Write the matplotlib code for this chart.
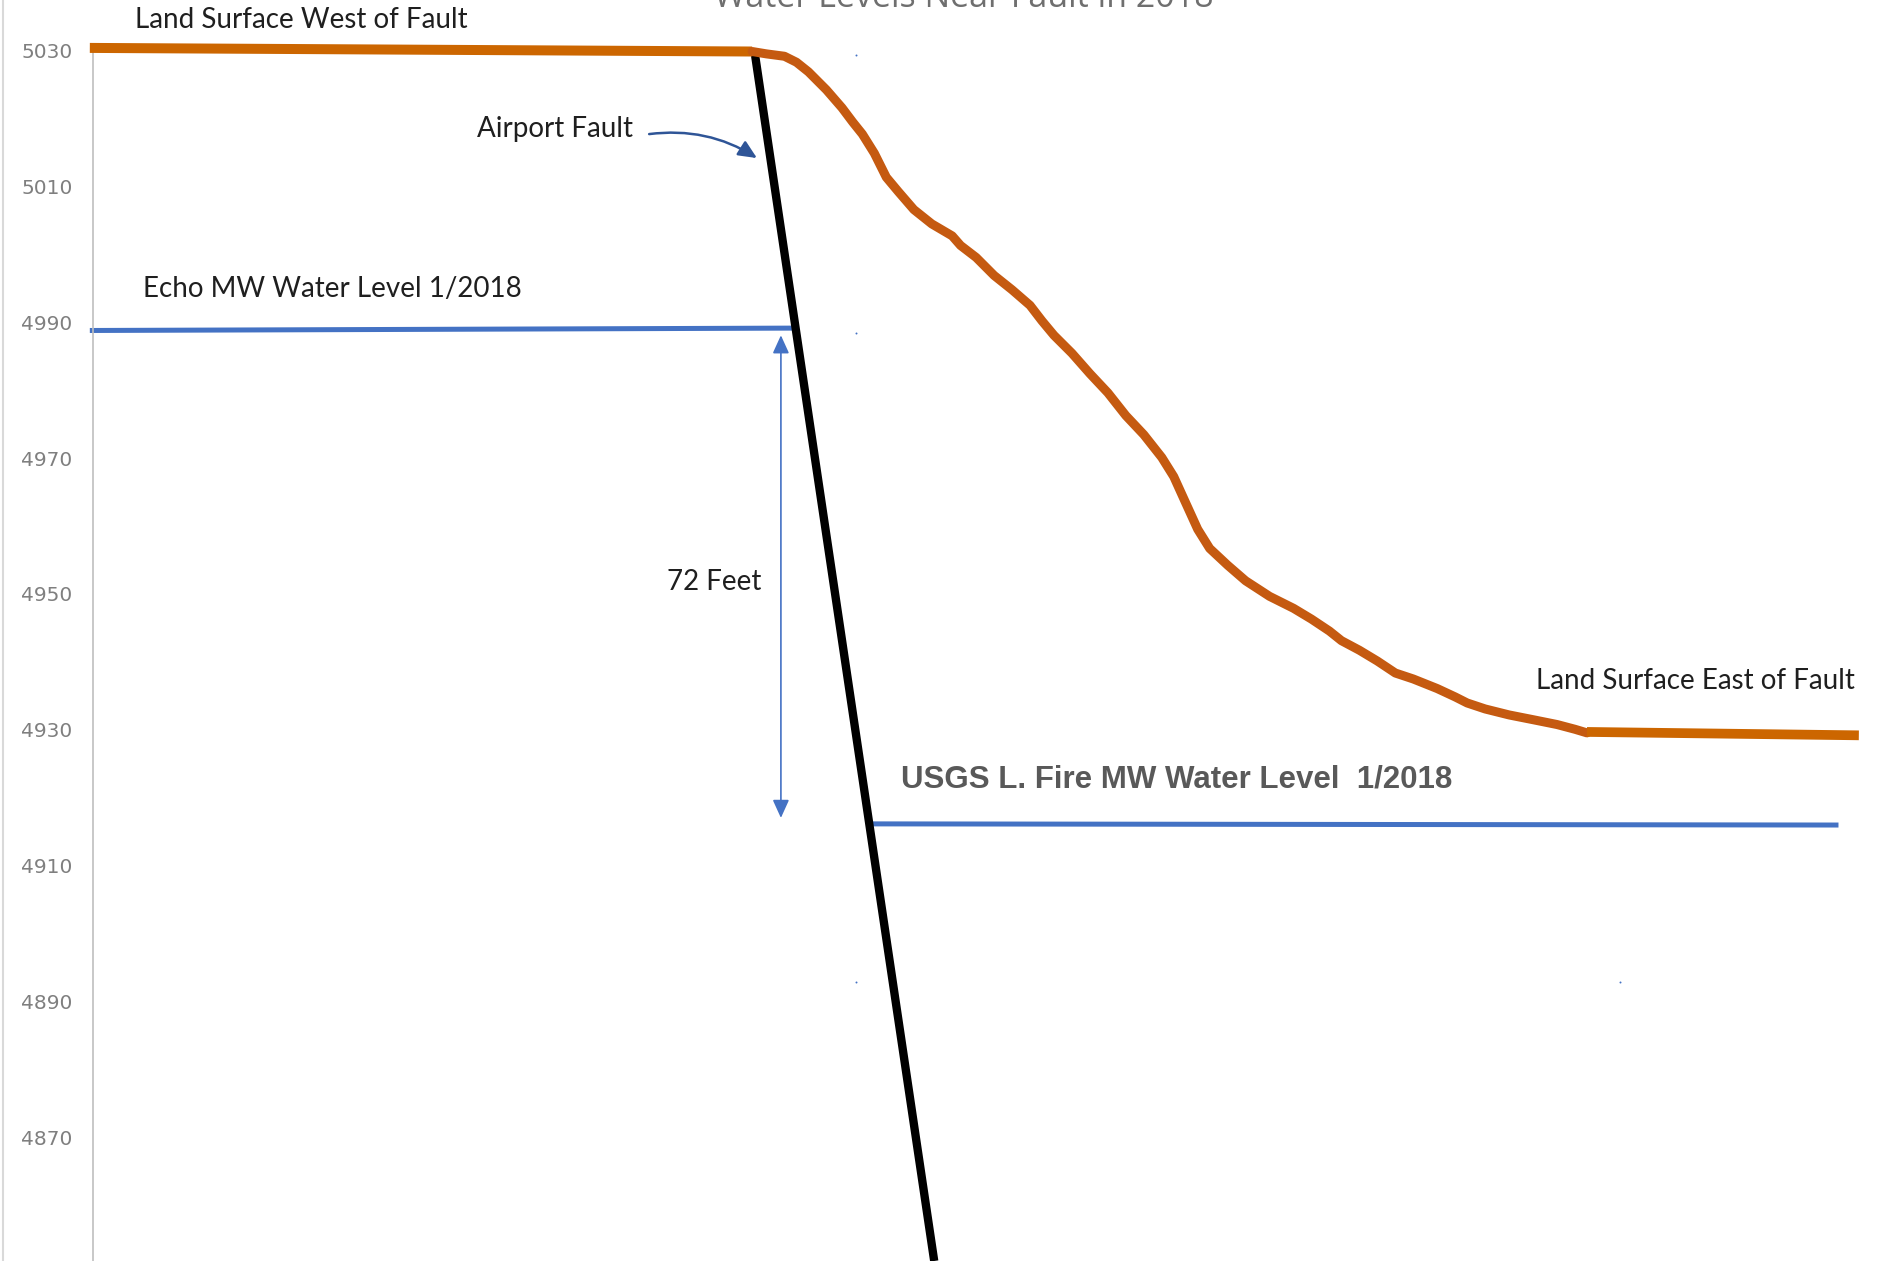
import matplotlib
matplotlib.use("Agg")
import matplotlib.pyplot as plt
from matplotlib.lines import Line2D

# ---------------- data (distance units along section, elevation in ft) ----------------
west_x = [0, 553]
west_y = [5030.35, 5029.82]

slope_x = [553, 565, 580, 590, 600, 615, 628, 637, 645, 655, 665, 675, 688, 703, 720, 727,
           740, 755, 770, 785, 795, 805, 820, 835, 850, 865, 880, 895, 905, 915, 925, 935,
           950, 965, 985, 1005, 1020, 1035, 1045, 1060, 1075, 1090, 1105, 1125, 1140, 1150,
           1165, 1185, 1205, 1225, 1240, 1250]
slope_y = [5029.82, 5029.47, 5029.12, 5028.24, 5026.83, 5024.18, 5021.54, 5019.43, 5017.67,
           5014.85, 5011.32, 5009.21, 5006.56, 5004.45, 5002.69, 5001.28, 4999.52, 4996.87,
           4994.76, 4992.47, 4990.18, 4988.06, 4985.42, 4982.42, 4979.60, 4976.25, 4973.44,
           4970.09, 4967.27, 4963.39, 4959.52, 4956.70, 4954.23, 4951.94, 4949.65, 4947.89,
           4946.30, 4944.54, 4943.13, 4941.72, 4940.13, 4938.37, 4937.49, 4936.08, 4934.85,
           4933.96, 4933.08, 4932.20, 4931.50, 4930.79, 4930.09, 4929.56]

east_x = [1250, 1477]
east_y = [4929.70, 4929.20]

echo_x = [0, 587]
echo_y = [4988.77, 4989.12]

usgs_x = [653, 1460]
usgs_y = [4916.17, 4916.00]

fault_x = [555, 705]
fault_y = [5029.8, 4851.85]

dots_x = [640, 640, 640, 1278]
dots_y = [5029.3, 4988.4, 4892.9, 4892.9]

diff_top = 4988.06
diff_bot = 4917.05
diff_x = 577

yticks = [4870, 4890, 4910, 4930, 4950, 4970, 4990, 5010, 5030]
title = "Water Levels Near Fault in 2018"

# ---------------- figure ----------------
W, H = 1878, 1261
fig = plt.figure(figsize=(W / 100, H / 100), dpi=100)
ax = fig.add_axes([0, 0, 1, 1])
ax.set_xlim(-75, 1493)
ax.set_ylim(4851.85, 5037.4)

label_font = "Lato"
dark = "#1f1f1f"
fs = 20

# lines
ax.plot(fault_x, fault_y, color="black", lw=6, solid_capstyle="butt", zorder=3)
ax.plot(west_x, west_y, color="#CC6600", lw=7.2, solid_capstyle="butt", zorder=4)
ax.plot(slope_x, slope_y, color="#C55A11", lw=6.5, solid_capstyle="round",
        solid_joinstyle="round", zorder=4)
ax.plot(east_x, east_y, color="#CC6600", lw=7, solid_capstyle="butt", zorder=4)
ax.plot(echo_x, echo_y, color="#4472C4", lw=3.6, solid_capstyle="butt", zorder=2)
ax.plot(usgs_x, usgs_y, color="#4472C4", lw=3.6, solid_capstyle="butt", zorder=2)
ax.scatter(dots_x, dots_y, s=2, color="#4472C4", zorder=2, linewidths=0)

# 72 feet double arrow
ax.annotate("", xy=(diff_x, diff_top), xytext=(diff_x, diff_bot),
            arrowprops=dict(arrowstyle="<|-|>,head_length=1.1,head_width=0.5",
                            color="#4472C4", lw=1.2, shrinkA=0, shrinkB=0))
ax.text(521, 4951.76, "72 Feet", fontsize=fs, family=label_font, color=dark,
        ha="center", va="center")

# Airport fault arrow
ax.text(388, 5018.37, "Airport Fault", fontsize=fs, family=label_font, color=dark,
        ha="center", va="center")
ax.annotate("", xy=(557, 5014.14), xytext=(467, 5017.67),
            arrowprops=dict(arrowstyle="-|>,head_length=1.1,head_width=0.5",
                            color="#2F5597", lw=1.8, shrinkA=0, shrinkB=0,
                            connectionstyle="arc3,rad=-0.18"))

# labels
ax.text(38, 5034.4, "Land Surface West of Fault", fontsize=fs, family=label_font,
        color=dark, ha="left", va="center")
ax.text(44, 4994.93, "Echo MW Water Level 1/2018", fontsize=fs, family=label_font,
        color=dark, ha="left", va="center")
ax.text(1474, 4937.14, "Land Surface East of Fault", fontsize=fs, family=label_font,
        color=dark, ha="right", va="center")
ax.text(677, 4922.69, "USGS L. Fire MW Water Level  1/2018", fontsize=22.5,
        family="Liberation Sans", fontweight="bold", color="#595959",
        ha="left", va="center")

# axis
for s in ["top", "right", "bottom"]:
    ax.spines[s].set_visible(False)
ax.spines["left"].set_position(("data", 3))
ax.spines["left"].set_bounds(4851.85, 5030)
ax.spines["left"].set_color("#bfbfbf")
ax.spines["left"].set_linewidth(1.2)
ax.set_yticks(yticks)
ax.set_yticklabels([str(t) for t in yticks])
ax.tick_params(axis="y", length=0, pad=15, labelsize=14.5, labelcolor="#7f7f7f")
for lab in ax.get_yticklabels():
    lab.set_family("DejaVu Sans")
ax.set_xticks([])
ax.patch.set_visible(False)

# chart frame edge on the left
fig.add_artist(Line2D([2.5 / W, 2.5 / W], [0, 1], transform=fig.transFigure,
                      color="#d9d9d9", lw=1.5))

# title (partially cut off at top, as in the reference)
fig.text(964 / W, 1 - 7 / H, title, fontsize=24.5, color="#6f6f6f",
         family="Open Sans", ha="center", va="baseline")

fig.savefig("out.png", dpi=100)
